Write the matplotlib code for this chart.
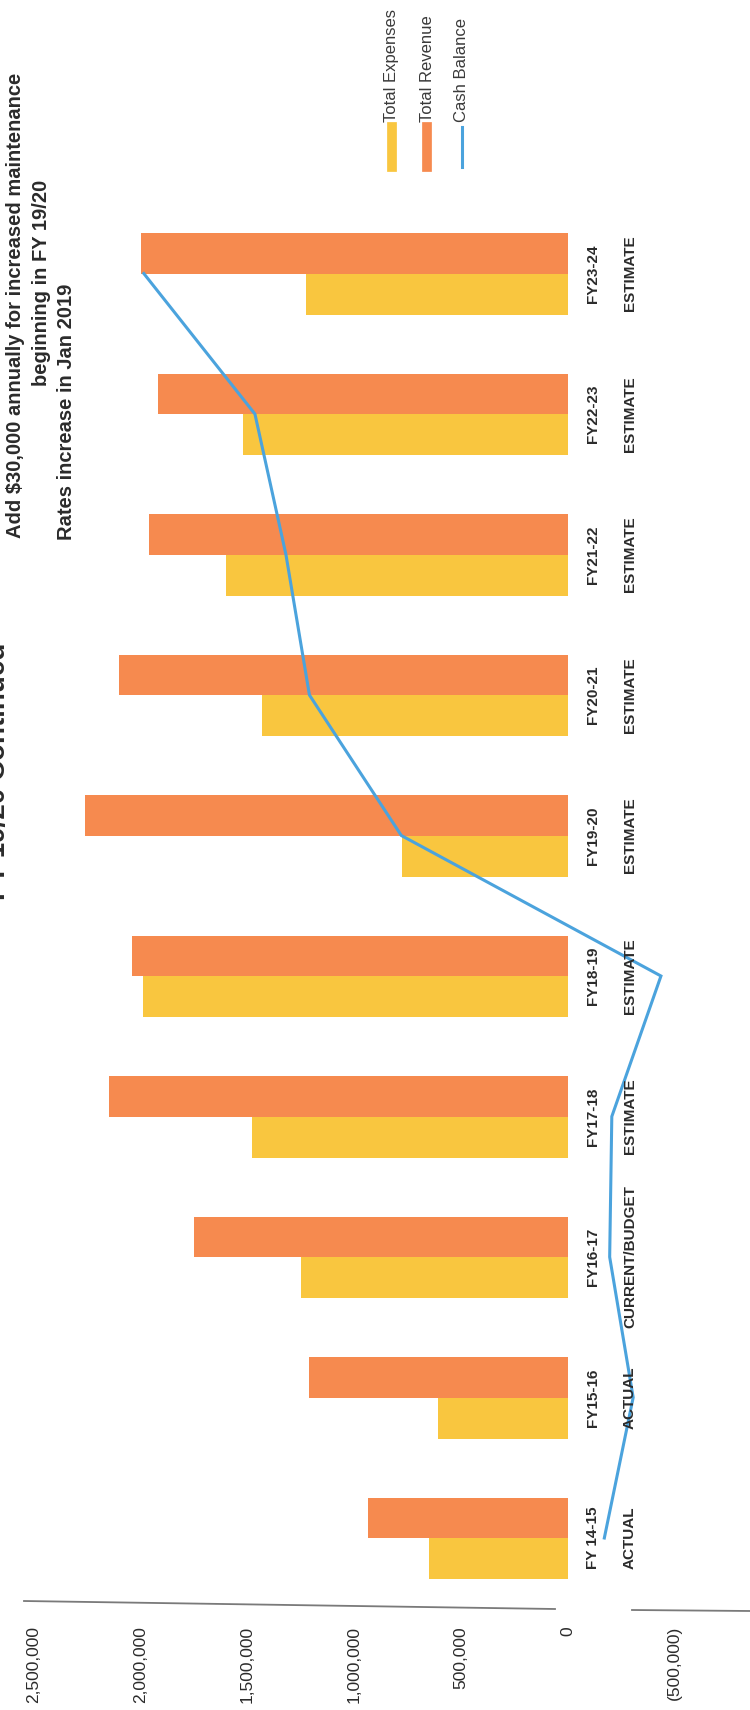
import matplotlib
matplotlib.use("Agg")
import matplotlib.pyplot as plt
import matplotlib.transforms as mtransforms
import numpy as np

# ---------------- data ----------------
categories = ['FY 14-15', 'FY15-16', 'FY16-17', 'FY17-18', 'FY18-19',
              'FY19-20', 'FY20-21', 'FY21-22', 'FY22-23', 'FY23-24']
status = ['ACTUAL', 'ACTUAL', 'CURRENT/BUDGET', 'ESTIMATE', 'ESTIMATE',
          'ESTIMATE', 'ESTIMATE', 'ESTIMATE', 'ESTIMATE', 'ESTIMATE']
total_expenses = [650000, 610000, 1250000, 1480000, 1990000,
                  775000, 1430000, 1600000, 1520000, 1225000]
total_revenue = [935000, 1210000, 1750000, 2150000, 2040000,
                 2260000, 2100000, 1960000, 1920000, 2000000]
cash_balance = [-170000, -305000, -195000, -205000, -435000,
                780000, 1210000, 1320000, 1465000, 1985000]
tick_values = [2500000, 2000000, 1500000, 1000000, 500000, 0, -500000]
legend_labels = ['Total Expenses', 'Total Revenue', 'Cash Balance']
note_lines = ['Add $30,000 annually for increased maintenance',
              'beginning in FY 19/20',
              'Rates increase in Jan 2019']
title_text = 'FY 19/20 Continued'

# ---------------- style ----------------
W, H = 750, 1710
C_EXP = '#F9C63F'
C_REV = '#F68A4F'
C_CASH = '#4BA3DD'
TXT = '#2b2b2b'
SANS = ['Liberation Sans', 'DejaVu Sans']

fig = plt.figure(figsize=(W / 100, H / 100), dpi=100)
fig.patch.set_facecolor('white')
ax = fig.add_axes([0, 0, 1, 1])
ax.axis('off')

# chart is rotated: values run right-to-left, categories bottom-to-top
zero_px, px_per_m = 568.0, 213.7
ax.set_xlim((zero_px - 0) / px_per_m * 1e6, (zero_px - W) / px_per_m * 1e6)
c0_px, step_px = 1538.0, 140.5
ax.set_ylim((c0_px - H) / step_px, (c0_px - 0) / step_px)

idx = np.arange(len(categories))
bh_rev, bh_exp = 0.285, 0.295
ax.barh(idx, total_revenue, height=bh_rev, align='edge', color=C_REV,
        linewidth=0, zorder=2)
ax.barh(idx - bh_exp, total_expenses, height=bh_exp, align='edge',
        color=C_EXP, linewidth=0, zorder=2)
ax.plot(cash_balance, idx, color=C_CASH, lw=2.2, zorder=3,
        solid_joinstyle='miter')

# category labels
tr_fx_dy = mtransforms.blended_transform_factory(fig.transFigure, ax.transData)
for i, (c, s) in enumerate(zip(categories, status)):
    ax.text(593 / W, i, c, transform=tr_fx_dy, rotation=90, ha='center',
            va='center', fontsize=11, fontweight='bold', color=TXT,
            family=SANS)
    ax.text(630 / W, i, s, transform=tr_fx_dy, rotation=90, ha='center',
            va='center', fontsize=11, fontweight='bold', color=TXT,
            family=SANS)

# value tick labels along the bottom
tr_dx_fy = mtransforms.blended_transform_factory(ax.transData, fig.transFigure)
for v in tick_values:
    lab = f'{v:,.0f}' if v >= 0 else f'({-v:,.0f})'
    ax.text(v, 1 - 1626 / H, lab, transform=tr_dx_fy, rotation=90,
            ha='center', va='top', fontsize=12.5, color=TXT, family=SANS)

# axis line at bottom (with gap as in the scan)
ax.plot([24 / W, 555 / W], [1 - 1601 / H, 1 - 1609 / H], transform=fig.transFigure,
        color='#7a7a7a', lw=1.3, zorder=1)
ax.plot([632 / W, 1.0], [1 - 1610 / H, 1 - 1611 / H], transform=fig.transFigure,
        color='#7a7a7a', lw=1.3, zorder=1)

# legend (rotated)
leg_x = [392, 427, 462]
leg_colors = [C_EXP, C_REV, C_CASH]
leg_lw = [7, 7, 2.2]
for x, lab, col, lw in zip(leg_x, legend_labels, leg_colors, leg_lw):
    fig.add_artist(plt.Line2D([x / W, x / W], [1 - 127 / H, 1 - 167 / H],
                              transform=fig.transFigure, color=col, lw=lw))
    fig.text(x / W, 1 - 122 / H, lab, rotation=90, ha='center', va='bottom',
             fontsize=12, color='#3a3a3a', family=SANS)

# note text
fig.text(16 / W, 1 - 305 / H, note_lines[0], rotation=90, ha='center',
         va='center', fontsize=14.5, fontweight='bold', color=TXT, family=SANS)
fig.text(42 / W, 1 - 283 / H, note_lines[1], rotation=90, ha='center',
         va='center', fontsize=14.5, fontweight='bold', color=TXT, family=SANS)
fig.text(67 / W, 1 - 540 / H, note_lines[2], rotation=90, ha='center',
         va='bottom', fontsize=14.5, fontweight='bold', color=TXT, family=SANS)

# title, mostly cut off at the page edge
fig.text(11 / W, 1 - 900 / H, title_text, rotation=90, ha='right',
         va='bottom', fontsize=20, fontweight='bold', color=TXT, family=SANS)

fig.savefig('out.png', dpi=100, facecolor='white')
